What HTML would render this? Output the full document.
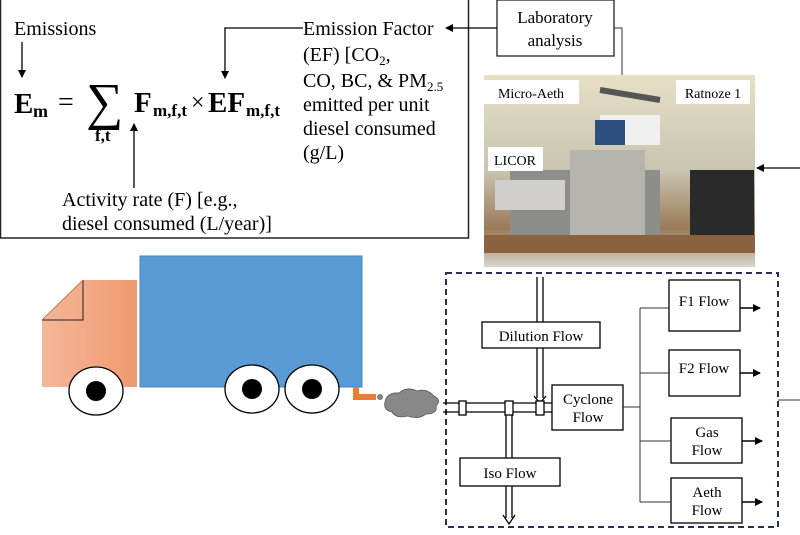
<!DOCTYPE html>
<html><head><style>
body{margin:0;background:#fff;}
svg text{font-family:"Liberation Serif",serif;}
</style></head><body>
<svg width="800" height="530" viewBox="0 0 800 530" xmlns="http://www.w3.org/2000/svg">
<defs>
<marker id="ah" markerWidth="8" markerHeight="8" refX="7" refY="4" orient="auto" markerUnits="userSpaceOnUse"><path d="M0,0 L8,4 L0,8 z" fill="#000"/></marker>
<linearGradient id="cab" x1="0" x2="1"><stop offset="0" stop-color="#f4b79a"/><stop offset="1" stop-color="#f09a70"/></linearGradient>
<linearGradient id="ph" x1="0" y1="0" x2="0" y2="1"><stop offset="0" stop-color="#e6e0c6"/><stop offset="0.5" stop-color="#c9c4b0"/><stop offset="0.8" stop-color="#9a7a58"/><stop offset="1" stop-color="#d8d4cc"/></linearGradient>
</defs>
<!-- equation box -->
<rect x="0.5" y="-1" width="468" height="239" fill="#fff" stroke="#222" stroke-width="1.5"/>
<text x="14" y="35" font-size="20">Emissions</text>
<line x1="22" y1="42" x2="22" y2="77" stroke="#000" stroke-width="1.3" marker-end="url(#ah)"/>
<text x="14" y="113" font-size="29" font-weight="bold">E</text>
<text x="33" y="117" font-size="18" font-weight="bold">m</text>
<text x="58" y="111" font-size="28">=</text>
<text x="86" y="119" font-size="52">∑</text>
<text x="95" y="141" font-size="17" font-weight="bold">f,t</text>
<text x="134" y="112" font-size="29" font-weight="bold">F</text>
<text x="153" y="116" font-size="17" font-weight="bold">m,f,t</text>
<text x="191" y="110" font-size="24">×</text>
<text x="208" y="112" font-size="29" font-weight="bold">EF</text>
<text x="246" y="116" font-size="17" font-weight="bold">m,f,t</text>
<polyline points="303,28 225,28 225,78" fill="none" stroke="#000" stroke-width="1.3" marker-end="url(#ah)"/>
<line x1="134" y1="188" x2="134" y2="124" stroke="#000" stroke-width="1.3" marker-end="url(#ah)"/>
<text x="303" y="35" font-size="20">Emission Factor</text>
<text x="303" y="61" font-size="20">(EF) [CO<tspan font-size="13" dy="4">2</tspan><tspan dy="-4">,</tspan></text>
<text x="303" y="87" font-size="20">CO, BC, &amp; PM<tspan font-size="13" dy="4">2.5</tspan></text>
<text x="303" y="111" font-size="20">emitted per unit</text>
<text x="303" y="135" font-size="20">diesel consumed</text>
<text x="303" y="159" font-size="20">(g/L)</text>
<text x="62" y="206" font-size="20">Activity rate (F) [e.g.,</text>
<text x="62" y="230" font-size="20">diesel consumed (L/year)]</text>
<!-- lab -->
<rect x="497" y="0" width="117" height="56" fill="#fff" stroke="#222" stroke-width="1.3"/>
<text x="555" y="23" font-size="17" text-anchor="middle">Laboratory</text>
<text x="555" y="46" font-size="17" text-anchor="middle">analysis</text>
<line x1="497" y1="28" x2="446" y2="28" stroke="#000" stroke-width="1.2" marker-end="url(#ah)"/>
<polyline points="614,28 622,28 622,75" fill="none" stroke="#333" stroke-width="1"/>
<!-- photo -->
<rect x="484" y="75" width="271" height="192" fill="url(#ph)"/>
<rect x="510" y="170" width="150" height="70" fill="#8d8d8a"/>
<rect x="570" y="150" width="75" height="90" fill="#b5b5ae"/>
<rect x="495" y="180" width="70" height="30" fill="#d0cfcc"/>
<rect x="690" y="170" width="64" height="80" fill="#2a2a2a"/>
<rect x="484" y="235" width="271" height="18" fill="#8a6240"/>
<rect x="600" y="115" width="60" height="30" fill="#f0f0f0"/>
<rect x="595" y="120" width="30" height="25" fill="#2d4f80"/>
<line x1="600" y1="90" x2="660" y2="100" stroke="#555" stroke-width="6"/>
<rect x="484" y="80" width="95" height="24" fill="#fff"/>
<text x="531" y="98" font-size="14" text-anchor="middle">Micro-Aeth</text>
<rect x="676" y="80" width="74" height="24" fill="#fff"/>
<text x="713" y="98" font-size="14" text-anchor="middle">Ratnoze 1</text>
<rect x="488" y="147" width="55" height="24" fill="#fff"/>
<text x="515" y="165" font-size="14" text-anchor="middle">LICOR</text>
<line x1="800" y1="168" x2="757" y2="168" stroke="#000" stroke-width="1.3" marker-end="url(#ah)"/>
<!-- truck -->
<polygon points="83,280 137,280 137,387 42,387 42,320" fill="url(#cab)"/>
<polyline points="42,320 83,320 83,280" fill="none" stroke="#222" stroke-width="1"/>
<line x1="42" y1="320" x2="83" y2="280" stroke="#c8785a" stroke-width="1"/>
<rect x="140" y="256" width="222" height="131" fill="#5b9bd5" stroke="#4a86bd" stroke-width="1"/>
<ellipse cx="96" cy="391" rx="27" ry="24" fill="#fff" stroke="#000" stroke-width="1.3"/>
<circle cx="96" cy="391" r="10" fill="#000"/>
<ellipse cx="252" cy="389" rx="27" ry="24" fill="#fff" stroke="#000" stroke-width="1.3"/>
<circle cx="252" cy="389" r="10" fill="#000"/>
<ellipse cx="312" cy="389" rx="27" ry="24" fill="#fff" stroke="#000" stroke-width="1.3"/>
<circle cx="312" cy="389" r="10" fill="#000"/>
<polygon points="353,387 359,387 359,394 376,394 376,400 353,400" fill="#ed7d31"/>
<circle cx="380" cy="397" r="2.5" fill="#888" stroke="#444" stroke-width="0.6"/>
<path d="M385,402 q2,-10 14,-9 q8,-7 18,-2 q10,-3 17,5 q8,4 2,10 q2,8 -10,8 q-8,6 -18,2 q-12,3 -16,-4 q-9,-2 -7,-10z" fill="#888" stroke="#555" stroke-width="0.8"/>
<!-- dashed box -->
<rect x="446" y="273" width="332" height="254" fill="none" stroke="#2b2f55" stroke-width="2" stroke-dasharray="6,4"/>
<line x1="778" y1="400" x2="800" y2="400" stroke="#333" stroke-width="1"/>
<!-- pipes -->
<g fill="none" stroke="#000" stroke-width="1.3">
<line x1="443" y1="403" x2="552" y2="403"/><line x1="443" y1="412" x2="552" y2="412"/>
<line x1="537" y1="277" x2="537" y2="398"/><line x1="543" y1="277" x2="543" y2="398"/>
<polyline points="534,396 540,403 546,396"/>
<line x1="506" y1="412" x2="506" y2="518"/><line x1="512" y1="412" x2="512" y2="518"/>
<polyline points="503,515 509,524 515,515"/>
</g>
<g fill="#fff" stroke="#000" stroke-width="1.3">
<rect x="459" y="401" width="7" height="14"/><rect x="505" y="401" width="8" height="14"/><rect x="536" y="401" width="8" height="14"/>
<rect x="482" y="322" width="118" height="26"/>
<rect x="460" y="458" width="100" height="28"/>
<rect x="552" y="385" width="71" height="45"/>
<rect x="669" y="280" width="71" height="51"/>
<rect x="669" y="350" width="71" height="46"/>
<rect x="671" y="418" width="71" height="45"/>
<rect x="671" y="478" width="71" height="45"/>
</g>
<g font-size="15" text-anchor="middle">
<text x="541" y="341">Dilution Flow</text>
<text x="510" y="478">Iso Flow</text>
<text x="588" y="404">Cyclone</text><text x="588" y="422">Flow</text>
<text x="704" y="306">F1 Flow</text>
<text x="704" y="373">F2 Flow</text>
<text x="707" y="437">Gas</text><text x="707" y="455">Flow</text>
<text x="707" y="497">Aeth</text><text x="707" y="515">Flow</text>
</g>
<g fill="none" stroke="#333" stroke-width="1">
<polyline points="623,407 640,407"/>
<line x1="640" y1="308" x2="640" y2="502"/>
<line x1="640" y1="308" x2="669" y2="308"/>
<line x1="640" y1="373" x2="669" y2="373"/>
<line x1="640" y1="441" x2="671" y2="441"/>
<line x1="640" y1="502" x2="671" y2="502"/>
</g>
<g stroke="#000" stroke-width="1.5">
<line x1="740" y1="308" x2="760" y2="308" marker-end="url(#ah)"/>
<line x1="740" y1="373" x2="760" y2="373" marker-end="url(#ah)"/>
<line x1="742" y1="441" x2="762" y2="441" marker-end="url(#ah)"/>
<line x1="742" y1="502" x2="762" y2="502" marker-end="url(#ah)"/>
</g>
</svg>
</body></html>
